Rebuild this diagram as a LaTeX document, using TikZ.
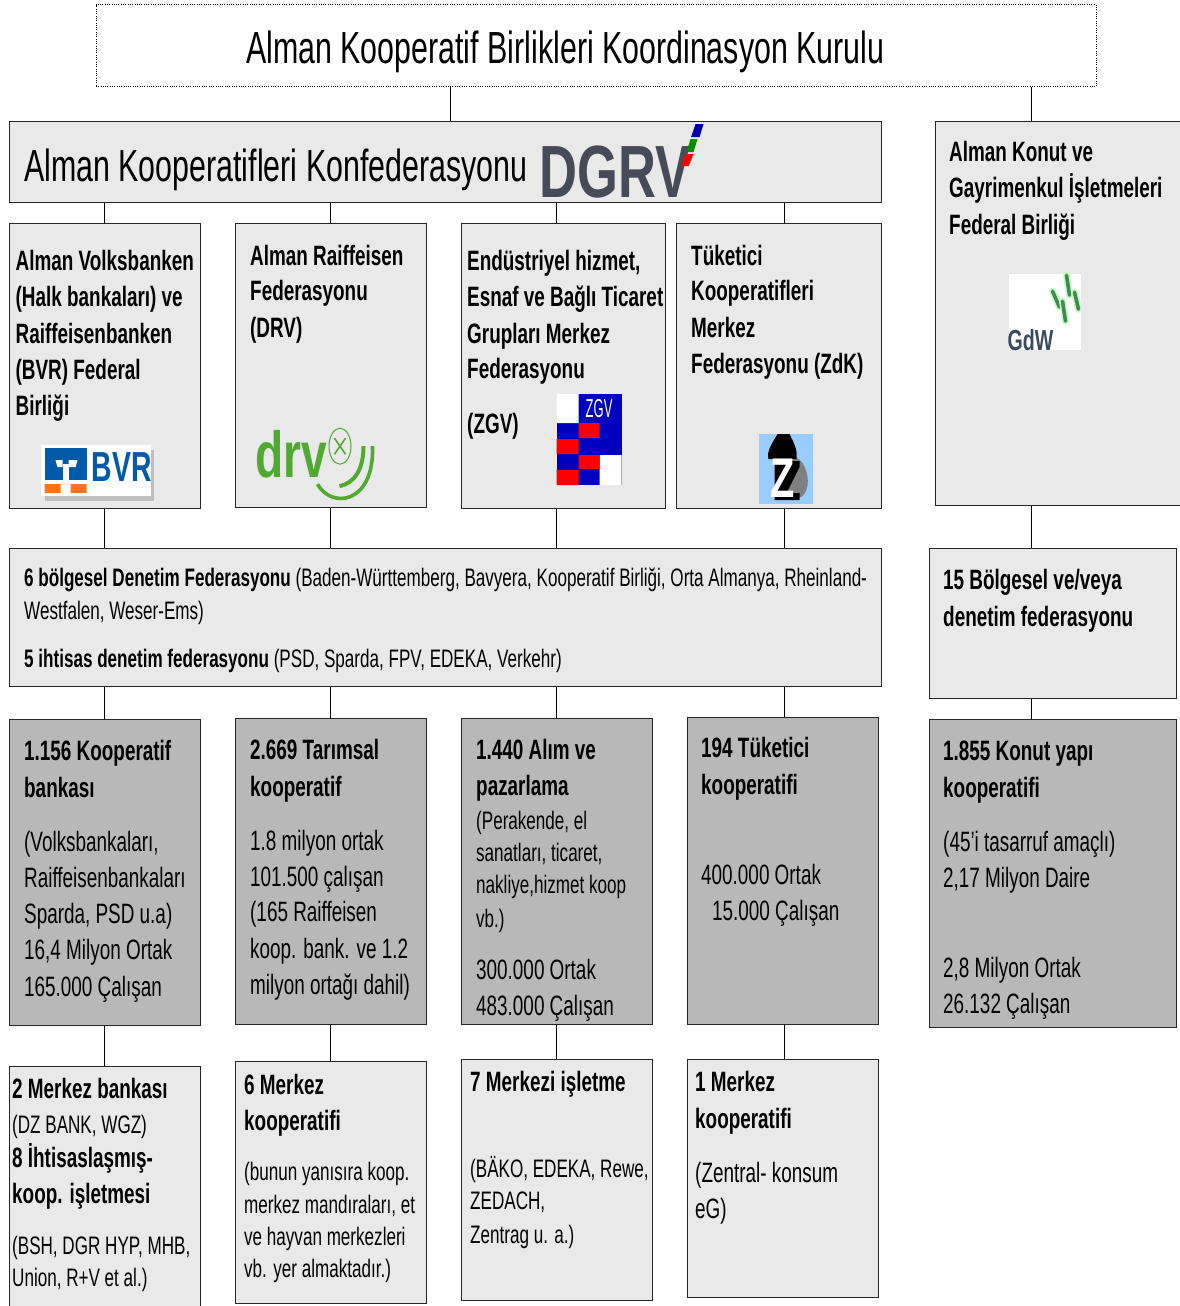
\documentclass[tikz,border=0pt]{standalone}
\usepackage{fontspec}
\setmainfont[FakeStretch=0.675]{Liberation Sans}
\newfontfamily\widefam[FakeStretch=0.71]{Liberation Sans}
\newfontfamily\narrowfam[FakeStretch=0.5]{Liberation Sans}
\definecolor{lightfill}{RGB}{233,233,233}
\definecolor{grayfill}{RGB}{184,184,184}
\definecolor{dgrvgray}{RGB}{71,74,87}
\definecolor{bvrblue}{RGB}{0,90,170}
\definecolor{bvrorange}{RGB}{250,115,30}
\definecolor{drvgreen}{RGB}{80,170,50}
\definecolor{zblue}{RGB}{153,204,255}
\definecolor{gdwslate}{RGB}{58,74,96}
\definecolor{gdwgreen}{RGB}{70,135,85}
\newcounter{tlc}
\tikzset{
  lightbox/.style={draw=black!85,line width=1.2pt,fill=lightfill,inner sep=0pt},
  graybox/.style={draw=black!85,line width=1.2pt,fill=grayfill,inner sep=0pt},
  titlebox/.style={draw=black,dash pattern=on 1pt off 1.3pt,line width=0.9pt,fill=white,inner sep=0pt},
  link/.style={draw=black,line width=1pt},
  line/.style={anchor=base west,inner sep=0pt,font=\fontsize{28}{30}\selectfont},
  small/.style={anchor=base west,inner sep=0pt,font=\fontsize{25.3}{27}\selectfont},
  big/.style={anchor=base west,inner sep=0pt,font=\fontsize{45}{47}\selectfont},
  logotext/.style={anchor=base west,inner sep=0pt},
}
\newcommand{\bx}[6]{\node[#1,minimum width=#4-#2,minimum height=#5-#3,anchor=north west] (#6) at (#2,#3) {};}
\newcommand{\tl}[4][line]{\stepcounter{tlc}\node[#1] (t\arabic{tlc}) at (#2,#3) {#4};}
\newcommand{\bl}[3]{\tl{#1}{#2}{\textbf{#3}}}
\newcommand{\vc}[3]{\draw[link] (#1.south -| #3) -- (#2.north -| #3);}
\begin{document}
\begin{tikzpicture}[x=1pt,y=-1pt]
\useasboundingbox (0,0) rectangle (1180,1306);
\begin{scope}[xshift=-0.5pt,yshift=0.8pt]
\foreach \n/\x in {a/104.5,b/330.5,c/556.5,d/784.5,e/1031.5,f/450.5}{\coordinate (x\n) at (\x,0);}
% boxes
\bx{titlebox}{96}{5}{1096}{87}{title}
\bx{lightbox}{9}{122}{881}{203}{konf}
\bx{lightbox}{935}{122}{1186}{506}{konut}
\bx{lightbox}{9}{224}{200}{509}{bvr}
\bx{lightbox}{235}{224}{426}{508}{drv}
\bx{lightbox}{461}{224}{665}{509}{zgv}
\bx{lightbox}{676}{224}{881}{509}{zdk}
\bx{lightbox}{9}{549}{881}{687}{denetim}
\bx{lightbox}{929}{549}{1176}{699}{bolgesel}
\bx{graybox}{9}{720}{200}{1026}{kb}
\bx{graybox}{235}{719}{426}{1025}{tk}
\bx{graybox}{461}{719}{652}{1025}{ap}
\bx{graybox}{687}{718}{878}{1025}{tu}
\bx{graybox}{929}{720}{1176}{1028}{ky}
\bx{lightbox}{9}{1067}{200}{1312}{mb}
\bx{lightbox}{235}{1062}{426}{1304}{mk}
\bx{lightbox}{461}{1060}{652}{1301}{mi}
\bx{lightbox}{687}{1060}{878}{1298}{mt}
% connectors
\vc{title}{konf}{xf}
\draw[link] (title.south -| xe) -- (konut.north -| xe);
\vc{konf}{bvr}{xa}\vc{konf}{drv}{xb}\vc{konf}{zgv}{xc}\vc{konf}{zdk}{xd}
\vc{bvr}{denetim}{xa}\vc{drv}{denetim}{xb}\vc{zgv}{denetim}{xc}\vc{zdk}{denetim}{xd}
\vc{konut}{bolgesel}{xe}
\vc{denetim}{kb}{xa}\vc{denetim}{tk}{xb}\vc{denetim}{ap}{xc}\vc{denetim}{tu}{xd}
\vc{bolgesel}{ky}{xe}
\vc{kb}{mb}{xa}\vc{tk}{mk}{xb}\vc{ap}{mi}{xc}\vc{tu}{mt}{xd}
% titles
\tl[big]{246.5}{64}{Alman Kooperatif Birlikleri Koordinasyon Kurulu}
\tl[big]{24.5}{182}{Alman Kooperatifleri Konfederasyonu}
% DGRV logo
\tl[logotext,text=dgrvgray,font=\widefam\fontsize{74}{76}\bfseries\selectfont]{540}{198}{DGRV}
\fill[blue!65!black] (691.5,138) -- (696,125) -- (704,125) -- (700,138) -- cycle;
\fill[green!55!black] (687,153) -- (691,140) -- (698,140) -- (694,153) -- cycle;
\fill[red] (682,167) -- (686,155) -- (694,155) -- (689,167) -- cycle;
% konut
\bl{949.5}{162}{Alman Konut ve}\bl{949.5}{198}{Gayrimenkul İşletmeleri}\bl{949.5}{235}{Federal Birliği}
\fill[white] (1009,275) rectangle (1081,351);
\tl[logotext,text=gdwslate,font=\fontsize{29}{30}\bfseries\selectfont]{1008}{351}{GdW}
\foreach \a/\b/\c/\d in {1053/292/1060/308,1067/276/1070/296,1075/293/1079/310,1063/302/1066/322}{
  \draw[green!25,line width=7pt,line cap=round] (\a,\b) -- (\c,\d);
  \draw[gdwgreen,line width=3.6pt,line cap=round] (\a,\b) -- (\c,\d);}
% bvr
\bl{16}{271}{Alman Volksbanken}\bl{16}{307}{(Halk bankaları) ve}\bl{16}{344}{Raiffeisenbanken}\bl{16}{380}{(BVR) Federal}\bl{16}{416}{Birliği}
\fill[black!25] (45,451) rectangle (154,502);
\fill[white] (41,446) rectangle (151,497);
\fill[bvrblue] (45,449) rectangle (87,481);
\fill[white] (56,461) -- (63,461) -- (63,468) -- (58,468) -- cycle;
\fill[white] (69,461) -- (78,461) -- (76,468) -- (69,468) -- cycle;
\fill[white] (63,465) rectangle (69,481);
\fill[bvrorange] (45,485) rectangle (61,494) (71,485) rectangle (87,494);
\tl[logotext,text=bvrblue,font=\fontsize{42}{44}\bfseries\selectfont]{92}{482}{BVR}
% drv
\bl{250.5}{266}{Alman Raiffeisen}\bl{250.5}{301}{Federasyonu}\bl{250.5}{338}{(DRV)}
\tl[logotext,text=drvgreen,font=\widefam\fontsize{65}{67}\bfseries\selectfont]{256}{478}{drv}
\draw[drvgreen,line width=1pt] (340.5,447) circle[x radius=11,y radius=18];
\draw[drvgreen,line width=1.6pt] (335,439) -- (346,455) (346,439) -- (335,455);
\draw[drvgreen,line width=3.6pt] (318,485) .. controls (332,510) and (375,505) .. (373,447);
\draw[drvgreen,line width=4pt] (340,487) .. controls (355,484) and (364,470) .. (364,447);
% zgv
\bl{467.5}{271}{Endüstriyel hizmet,}\bl{467.5}{307}{Esnaf ve Bağlı Ticaret}\bl{467.5}{344}{Grupları Merkez}\bl{467.5}{379}{Federasyonu}\bl{467.5}{434}{(ZGV)}
\fill[blue!75!black] (557,395) rectangle (622,486);
\fill[white] (557,395) rectangle (579,424) (600,456) rectangle (622,486);
\fill[red] (579,424) rectangle (600,439) (557,440) rectangle (579,455) (579,456) rectangle (600,470) (557,471) rectangle (579,486);
\tl[logotext,text=white,font=\narrowfam\fontsize{26}{28}\selectfont]{586}{418}{ZGV}
% zdk
\bl{691.5}{266}{Tüketici}\bl{691.5}{301}{Kooperatifleri}\bl{691.5}{338}{Merkez}\bl{691.5}{374}{Federasyonu (ZdK)}
\fill[zblue] (759,435) rectangle (813,505);
\fill[black!50] (792,458) .. controls (803,456) and (810,475) .. (808,486) .. controls (806,500) and (795,502) .. (786,500) -- cycle;
\fill[black] (778,435) .. controls (772,445) and (767,452) .. (769,460) -- (797,460) .. controls (798,450) and (795,445) .. (790,435) -- cycle;
\fill[black] (775,462) -- (800,462) -- (800,468) -- (787,494) -- (800,494) -- (800,501) -- (775,501) -- cycle;
\tl[logotext,text=white,font=\widefam\fontsize{56}{58}\bfseries\selectfont]{771}{498}{Z}
% row 3
\tl[small]{24.5}{587}{\textbf{6 bölgesel Denetim Federasyonu} (Baden-Württemberg, Bavyera, Kooperatif Birliği, Orta Almanya, Rheinland-}
\tl[small]{24.5}{620}{Westfalen, Weser-Ems)}
\tl[small]{24.5}{668}{\textbf{5 ihtisas denetim federasyonu} (PSD, Sparda, FPV, EDEKA, Verkehr)}
\bl{943.5}{590}{15 Bölgesel ve/veya}\bl{943.5}{627}{denetim federasyonu}
% row 4
\bl{24.5}{761}{1.156 Kooperatif}\bl{24.5}{798}{bankası}
\tl{24.5}{852}{(Volksbankaları,}\tl{24.5}{888}{Raiffeisenbankaları}\tl{24.5}{924}{Sparda, PSD u.a)}\tl{24.5}{960}{16,4 Milyon Ortak}\tl{24.5}{997}{165.000 Çalışan}
\bl{250.5}{760}{2.669 Tarımsal}\bl{250.5}{797}{kooperatif}
\tl{250.5}{851}{1.8 milyon ortak}\tl{250.5}{887}{101.500 çalışan}\tl{250.5}{922}{(165 Raiffeisen}\tl{250.5}{959}{koop. bank. ve 1.2}\tl{250.5}{995}{milyon ortağı dahil)}
\bl{476.5}{760}{1.440 Alım ve}\bl{476.5}{796}{pazarlama}
\tl[small]{476.5}{830}{(Perakende, el}\tl[small]{476.5}{862}{sanatları, ticaret,}\tl[small]{476.5}{894}{nakliye,hizmet koop}\tl[small]{476.5}{928}{vb.)}
\tl{476.5}{980}{300.000 Ortak}\tl{476.5}{1016}{483.000 Çalışan}
\bl{701.5}{758}{194 Tüketici}\bl{701.5}{795}{kooperatifi}
\tl{701.5}{885}{400.000 Ortak}\tl{712.5}{921}{15.000 Çalışan}
\bl{943.5}{761}{1.855 Konut yapı}\bl{943.5}{798}{kooperatifi}
\tl{943.5}{852}{(45'i tasarruf amaçlı)}\tl{943.5}{888}{2,17 Milyon Daire}\tl{943.5}{978}{2,8 Milyon Ortak}\tl{943.5}{1014}{26.132 Çalışan}
% row 5
\bl{12.5}{1099}{2 Merkez bankası}\tl[small]{12.5}{1134}{(DZ BANK, WGZ)}\bl{12.5}{1168}{8 İhtisaslaşmış-}\bl{12.5}{1204}{koop. işletmesi}
\tl[small]{12.5}{1255}{(BSH, DGR HYP, MHB,}\tl[small]{12.5}{1287}{Union, R+V et al.)}
\bl{244.5}{1095}{6 Merkez}\bl{244.5}{1131}{kooperatifi}
\tl[small]{244.5}{1181}{(bunun yanısıra koop.}\tl[small]{244.5}{1214}{merkez mandıraları, et}\tl[small]{244.5}{1246}{ve hayvan merkezleri}\tl[small]{244.5}{1278}{vb. yer almaktadır.)}
\bl{470.5}{1092}{7 Merkezi işletme}
\tl[small]{470.5}{1178}{(BÄKO, EDEKA, Rewe,}\tl[small]{470.5}{1210}{ZEDACH,}\tl[small]{470.5}{1244}{Zentrag u. a.)}
\bl{695.5}{1092}{1 Merkez}\bl{695.5}{1129}{kooperatifi}
\tl{695.5}{1183}{(Zentral- konsum}\tl{695.5}{1219}{eG)}
\end{scope}
\end{tikzpicture}
\end{document}
